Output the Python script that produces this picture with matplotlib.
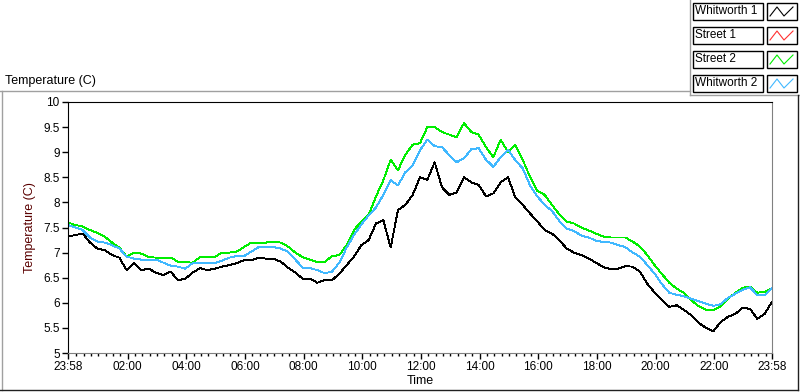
import numpy as np
import matplotlib.pyplot as plt
import matplotlib as mpl
from matplotlib.patches import Rectangle
from matplotlib.lines import Line2D

plt.rcParams['font.family'] = ['Liberation Sans', 'DejaVu Sans']

# readings every 15 min, starting 23:58
start_h = -2 / 60.0
step_h = 0.25

whitworth1 = [
    7.32, 7.35, 7.38, 7.20, 7.08, 7.05, 6.95, 6.90, 6.65, 6.80, 6.65, 6.68, 6.60, 6.55, 6.62, 6.45,
    6.48, 6.60, 6.69, 6.65, 6.68, 6.72, 6.75, 6.79, 6.85, 6.85, 6.90, 6.88, 6.88, 6.82, 6.70, 6.60,
    6.48, 6.48, 6.40, 6.45, 6.45, 6.58, 6.75, 6.92, 7.15, 7.25, 7.58, 7.65, 7.10, 7.85, 7.95, 8.15,
    8.50, 8.45, 8.80, 8.30, 8.15, 8.20, 8.50, 8.40, 8.35, 8.12, 8.18, 8.40, 8.50, 8.10, 7.95, 7.78,
    7.62, 7.45, 7.38, 7.25, 7.08, 7.00, 6.95, 6.88, 6.80, 6.71, 6.67, 6.68, 6.73, 6.72, 6.62, 6.38,
    6.20, 6.05, 5.92, 5.95, 5.86, 5.75, 5.60, 5.50, 5.43, 5.62, 5.72, 5.78, 5.90, 5.88, 5.68, 5.78,
    6.02,
]
street1 = []  # no data
street2 = [
    7.60, 7.55, 7.52, 7.45, 7.39, 7.32, 7.20, 7.10, 6.92, 7.00, 6.98, 6.91, 6.90, 6.89, 6.90, 6.82,
    6.81, 6.80, 6.91, 6.91, 6.91, 7.00, 7.00, 7.02, 7.11, 7.20, 7.20, 7.20, 7.22, 7.20, 7.12, 7.00,
    6.91, 6.86, 6.81, 6.81, 6.93, 6.95, 7.15, 7.45, 7.62, 7.75, 8.12, 8.44, 8.85, 8.64, 8.95, 9.15,
    9.18, 9.50, 9.50, 9.40, 9.35, 9.30, 9.58, 9.40, 9.35, 9.10, 8.90, 9.25, 9.00, 9.15, 8.85, 8.51,
    8.23, 8.15, 7.95, 7.76, 7.62, 7.58, 7.50, 7.44, 7.38, 7.32, 7.30, 7.30, 7.30, 7.22, 7.12, 6.95,
    6.75, 6.57, 6.40, 6.28, 6.20, 6.05, 5.93, 5.86, 5.85, 5.93, 6.08, 6.20, 6.30, 6.32, 6.20, 6.22,
    6.29,
]
whitworth2 = [
    7.55, 7.50, 7.45, 7.30, 7.22, 7.20, 7.15, 7.08, 6.92, 6.88, 6.86, 6.86, 6.86, 6.80, 6.74, 6.72,
    6.68, 6.79, 6.79, 6.79, 6.79, 6.84, 6.90, 6.93, 6.93, 7.02, 7.11, 7.11, 7.11, 7.08, 7.02, 6.86,
    6.70, 6.69, 6.65, 6.59, 6.62, 6.80, 7.10, 7.35, 7.56, 7.74, 7.90, 8.15, 8.44, 8.34, 8.60, 8.74,
    9.04, 9.25, 9.12, 9.10, 8.94, 8.80, 8.88, 9.06, 9.08, 8.85, 8.71, 8.90, 9.05, 8.84, 8.68, 8.34,
    8.12, 7.95, 7.83, 7.63, 7.48, 7.43, 7.34, 7.30, 7.24, 7.21, 7.20, 7.15, 7.11, 7.00, 6.92, 6.75,
    6.58, 6.37, 6.20, 6.16, 6.13, 6.08, 6.03, 5.98, 5.94, 5.97, 6.10, 6.18, 6.26, 6.31, 6.15, 6.15,
    6.29,
]

series_names = ["Whitworth 1", "Street 1", "Street 2", "Whitworth 2"]
series_data = [whitworth1, street1, street2, whitworth2]
series_colors = ["#000000", "#ff3030", "#00ee00", "#40b8ff"]

tick_hours = [2, 4, 6, 8, 10, 12, 14, 16, 18, 20, 22]
tick_labels = ["02:00", "04:00", "06:00", "08:00", "10:00", "12:00", "14:00",
               "16:00", "18:00", "20:00", "22:00"]

W, H = 800, 392
fig = plt.figure(figsize=(W / 100, H / 100), dpi=100)
fig.set_facecolor("white")


def fx(px):
    return px / W


def fy(py):
    return 1 - py / H


ax = fig.add_axes([fx(68), fy(353), fx(772) - fx(68), fy(102) - fy(353)])
ax.set_facecolor("white")

for name, vals, col in zip(series_names, series_data, series_colors):
    t = start_h + step_h * np.arange(len(vals))
    ax.plot(t, vals, color=col, lw=0.65, antialiased=False, label=name)

end_h = start_h + 24
ax.set_xlim(start_h, end_h)
ax.set_ylim(5, 10)

ax.xaxis.set_major_locator(mpl.ticker.FixedLocator([start_h] + tick_hours + [end_h]))
ax.xaxis.set_major_formatter(mpl.ticker.FixedFormatter(["23:58"] + tick_labels + ["23:58"]))
minor = [m * 0.25 for m in range(1, 96) if (m * 0.25) not in tick_hours]
ax.xaxis.set_minor_locator(mpl.ticker.FixedLocator(minor))
ax.yaxis.set_major_locator(mpl.ticker.MultipleLocator(0.5))
ax.yaxis.set_major_formatter(mpl.ticker.FormatStrFormatter("%g"))

ax.tick_params(axis="both", which="major", direction="out", length=4, width=1,
               labelsize=8.5, pad=2, colors="black")
ax.tick_params(axis="x", which="minor", direction="out", length=2.5, width=1)

for side in ["left", "top"]:
    ax.spines[side].set_color("black")
for side in ["right", "bottom"]:
    ax.spines[side].set_color("#808080")

ax.set_xlabel("Time", fontsize=9, labelpad=1)
ax.set_ylabel("Temperature (C)", fontsize=9, color="#5a0000", labelpad=5)

fig.text(fx(5), fy(81), "Temperature (C)", fontsize=9, va="center", ha="left")

# outer panel frame
fig.add_artist(Line2D([fx(0), fx(690)], [fy(91), fy(91)], color="#a0a0a0", lw=1))
fig.add_artist(Line2D([fx(690), fx(690)], [fy(0), fy(95)], color="#a0a0a0", lw=1))
fig.add_artist(Line2D([fx(690), fx(800)], [fy(95), fy(95)], color="#a0a0a0", lw=1))
fig.add_artist(Line2D([fx(1.5), fx(1.5)], [fy(91), fy(390)], color="#a0a0a0", lw=1))
fig.add_artist(Line2D([fx(0), fx(798)], [fy(390), fy(390)], color="#202020", lw=1))
fig.add_artist(Line2D([fx(797.5), fx(797.5)], [fy(95), fy(390)], color="#202020", lw=1))

# plot legend on the upper right
for i, (name, col) in enumerate(zip(series_names, series_colors)):
    top = 3 + 24 * i
    fig.add_artist(Rectangle((fx(693), fy(top + 17)), fx(70), fy(top) - fy(top + 17),
                             facecolor="white", edgecolor="black", lw=1))
    fig.text(fx(695), fy(top + 8.5), name, fontsize=8.5, va="center", ha="left")
    fig.add_artist(Rectangle((fx(767), fy(top + 17)), fx(30), fy(top) - fy(top + 17),
                             facecolor="white", edgecolor="black", lw=1))
    zx = [770, 777, 784, 793]
    zy = [top + 13, top + 4, top + 13, top + 4]
    fig.add_artist(Line2D([fx(v) for v in zx], [fy(v) for v in zy], color=col, lw=0.8))

fig.savefig("out.png", dpi=100)
